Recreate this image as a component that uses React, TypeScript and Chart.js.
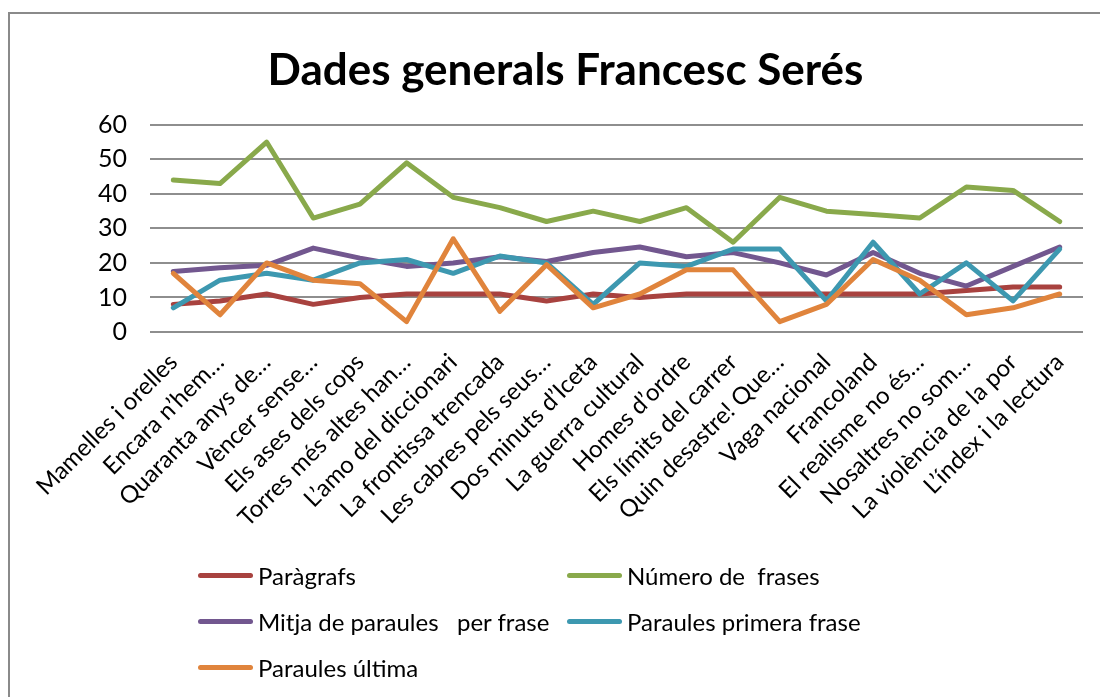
import React, { useEffect, useRef } from "react";
import { Chart, registerables } from "chart.js";

Chart.register(...registerables);

const TITLE = "Dades generals Francesc Serés";

const categories = [
  "Mamelles i orelles",
  "Encara n’hem…",
  "Quaranta anys de…",
  "Vèncer sense…",
  "Els ases dels cops",
  "Torres més altes han…",
  "L’amo del diccionari",
  "La frontissa trencada",
  "Les cabres pels seus…",
  "Dos minuts d’Iceta",
  "La guerra cultural",
  "Homes d’ordre",
  "Els límits del carrer",
  "Quin desastre! Que…",
  "Vaga nacional",
  "Francoland",
  "El realisme no és…",
  "Nosaltres no som…",
  "La violència de la por",
  "L’índex i la lectura",
];

const paragrafs = [8, 9, 11, 8, 10, 11, 11, 11, 9, 11, 10, 11, 11, 11, 11, 11, 11, 12, 13, 13];
const numeroFrases = [44, 43, 55, 33, 37, 49, 39, 36, 32, 35, 32, 36, 26, 39, 35, 34, 33, 42, 41, 32];
const mitjaParaules = [17.5, 18.6, 19.3, 24.3, 21.4, 19, 20, 21.8, 20.4, 23, 24.6, 21.8, 23, 20, 16.5, 23, 17, 13.3, 19, 24.6];
const primeraFrase = [7, 15, 17, 15, 20, 21, 17, 22, 20, 8, 20, 19, 24, 24, 9, 26, 11, 20, 9, 24];
const ultimaFrase = [17, 5, 20, 15, 14, 3, 27, 6, 19.5, 7, 11, 18, 18, 3, 8, 21, 15, 5, 7, 11];

const yTicks = [0, 10, 20, 30, 40, 50, 60];

const seriesNames = [
  "Paràgrafs",
  "Número de  frases",
  "Mitja de paraules   per frase",
  "Paraules primera frase",
  "Paraules última",
];
const seriesColors = ["#A8423F", "#89A94B", "#72578F", "#3D98B0", "#E0843C"];
const seriesData = [paragrafs, numeroFrases, mitjaParaules, primeraFrase, ultimaFrase];

const FONT = "Lato, 'Open Sans', sans-serif";

export default function App() {
  const ref = useRef<HTMLCanvasElement | null>(null);

  useEffect(() => {
    if (!ref.current) return;
    const chart = new Chart(ref.current, {
      type: "line",
      data: {
        labels: categories,
        datasets: seriesData.map((d, i) => ({
          label: seriesNames[i],
          data: d,
          borderColor: seriesColors[i],
          backgroundColor: seriesColors[i],
          borderWidth: 5,
          pointRadius: 0,
          tension: 0,
          fill: false,
          borderJoinStyle: "round" as const,
          borderCapStyle: "round" as const,
          order: seriesData.length - i,
        })),
      },
      options: {
        responsive: false,
        animation: false,
        layout: { padding: { left: 48, right: 17, top: 0, bottom: 0 } },
        plugins: {
          legend: { display: false },
          tooltip: { enabled: false },
          title: {
            display: true,
            text: TITLE,
            color: "#000",
            font: { family: FONT, size: 44, weight: "bold" },
            padding: { top: 44, bottom: 28 },
          },
        },
        scales: {
          x: {
            offset: true,
            grid: { display: false, drawTicks: false },
            border: { display: false },
            ticks: {
              color: "#000",
              font: { family: FONT, size: 24 },
              maxRotation: 45,
              minRotation: 45,
              autoSkip: false,
              padding: 16,
            },
            afterFit: (s: any) => {
              s.height = 365;
            },
          },
          y: {
            min: 0,
            max: 60,
            afterBuildTicks: (s: any) => {
              s.ticks = yTicks.map((v) => ({ value: v }));
            },
            grid: { color: "#8E8E8E", lineWidth: 2, drawTicks: false },
            border: { display: false },
            ticks: {
              color: "#000",
              font: { family: FONT, size: 25 },
              padding: 23,
            },
            afterFit: (s: any) => {
              s.width = 102;
            },
          },
        },
      },
    });
    return () => chart.destroy();
  }, []);

  const legendRows = [
    [0, 1],
    [2, 3],
    [4],
  ];
  const rowY = [575, 621, 667];
  const colX = [198, 567];

  return (
    <div
      style={{
        position: "fixed",
        left: 0,
        top: 0,
        width: 1100,
        height: 697,
        overflow: "hidden",
        background: "#fff",
      }}
    >
      <div
        style={{
          position: "absolute",
          left: 8,
          top: 12,
          width: 1200,
          height: 800,
          border: "2px solid #8A8A8A",
          boxSizing: "border-box",
        }}
      />
      <canvas
        ref={ref}
        width={1100}
        height={697}
        style={{ position: "absolute", left: 0, top: 0, width: 1100, height: 697 }}
      />
      {legendRows.map((row, r) =>
        row.map((idx, c) => (
          <div
            key={idx}
            style={{
              position: "absolute",
              left: colX[c],
              top: rowY[r] - 16,
              height: 32,
              display: "flex",
              alignItems: "center",
              fontFamily: FONT,
              fontSize: 24,
              color: "#000",
              whiteSpace: "pre",
            }}
          >
            <span
              style={{
                display: "inline-block",
                width: 55,
                height: 5,
                borderRadius: 3,
                background: seriesColors[idx],
                marginRight: 5,
              }}
            />
            <span>{seriesNames[idx]}</span>
          </div>
        ))
      )}
    </div>
  );
}
